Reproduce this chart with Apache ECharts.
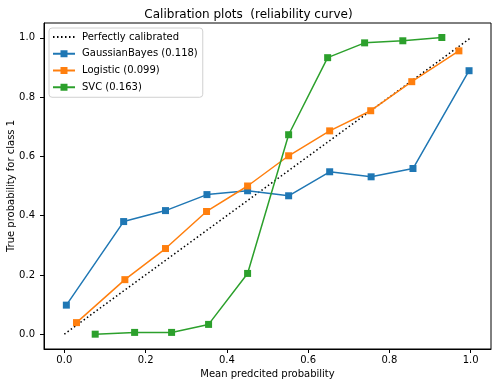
<!DOCTYPE html>
<html>
<head>
<meta charset="utf-8">
<script src="https://cdn.jsdelivr.net/npm/echarts@6/dist/echarts.min.js"></script>
<style>html,body{margin:0;padding:0;background:#fff}#c{width:497px;height:387px}</style>
</head>
<body>
<div id="c"></div>
<script>
var titleText = 'Calibration plots  (reliability curve)';
var xAxisName = 'Mean predcited probability';
var yAxisName = 'True probability for class 1';
var tickValues = [0, 0.2, 0.4, 0.6, 0.8, 1.0];

var perfectX = [0, 1];
var perfectY = [0, 1];

var gaussName = 'GaussianBayes (0.118)';
var gaussX = [0.005, 0.146, 0.249, 0.351, 0.451, 0.552, 0.653, 0.755, 0.858, 0.996];
var gaussY = [0.098, 0.380, 0.417, 0.471, 0.484, 0.467, 0.548, 0.531, 0.559, 0.889];

var logName = 'Logistic (0.099)';
var logX = [0.030, 0.149, 0.249, 0.350, 0.451, 0.552, 0.653, 0.754, 0.855, 0.971];
var logY = [0.039, 0.184, 0.289, 0.414, 0.500, 0.602, 0.686, 0.754, 0.852, 0.956];

var svcName = 'SVC (0.163)';
var svcX = [0.076, 0.173, 0.264, 0.355, 0.451, 0.552, 0.648, 0.739, 0.833, 0.929];
var svcY = [0.000, 0.006, 0.006, 0.033, 0.205, 0.673, 0.933, 0.983, 0.990, 1.001];

function pairs(xs, ys) { return xs.map(function (x, i) { return [x, ys[i]]; }); }

var FONT = 'DejaVu Sans';
var chart = echarts.init(document.getElementById('c'), null, {renderer: 'canvas'});

function dataSeries(name, xs, ys, color) {
  return {
    name: name, type: 'line', data: pairs(xs, ys),
    symbol: 'rect', symbolSize: 7,
    lineStyle: {color: color, width: 1.5},
    itemStyle: {color: color},
    animation: false, z: 3
  };
}

chart.setOption({
  animation: false,
  title: {
    text: titleText, left: 'center', top: 4,
    textStyle: {fontFamily: FONT, fontSize: 12, fontWeight: 'normal', color: '#000'}
  },
  grid: {left: 44, right: 6, top: 23, bottom: 38, show: true, borderColor: '#000', borderWidth: 1,
    containLabel: false, outerBoundsMode: 'none'},
  legend: {
    orient: 'vertical', left: 49, top: 28,
    padding: [4, 5, 5, 3], itemGap: 6.75, itemWidth: 22, itemHeight: 8.75,
    backgroundColor: 'rgba(255,255,255,0.8)', borderColor: '#d0d0d0', borderWidth: 1, borderRadius: 3,
    textStyle: {fontFamily: FONT, fontSize: 10, color: '#000', padding: [0, 0, 0, 2]},
    data: ['Perfectly calibrated', gaussName, logName, svcName]
  },
  xAxis: {
    type: 'value', min: -0.05, max: 1.05,
    name: xAxisName, nameLocation: 'middle', nameGap: 20, nameMoveOverlap: false,
    nameTextStyle: {fontFamily: FONT, fontSize: 10, color: '#000'},
    axisLine: {show: true, onZero: false, lineStyle: {color: '#000'}},
    axisTick: {show: true, length: 4, lineStyle: {color: '#000'}, customValues: tickValues},
    axisLabel: {fontFamily: FONT, fontSize: 10, color: '#000', margin: 6, customValues: tickValues,
      formatter: function (v) { return v.toFixed(1); }},
    splitLine: {show: false}
  },
  yAxis: {
    type: 'value', min: -0.05, max: 1.05,
    name: yAxisName, nameLocation: 'middle', nameGap: 28, nameMoveOverlap: false,
    nameTextStyle: {fontFamily: FONT, fontSize: 10, color: '#000'},
    axisLine: {show: true, onZero: false, lineStyle: {color: '#000'}},
    axisTick: {show: true, length: 4, lineStyle: {color: '#000'}, customValues: tickValues},
    axisLabel: {fontFamily: FONT, fontSize: 10, color: '#000', margin: 9, customValues: tickValues,
      formatter: function (v) { return v.toFixed(1); }},
    splitLine: {show: false}
  },
  series: [
    {
      name: 'Perfectly calibrated', type: 'line', data: pairs(perfectX, perfectY),
      symbol: 'none', lineStyle: {color: '#000', width: 1.5, type: [1.5, 2.5]},
      itemStyle: {color: 'rgba(0,0,0,0)', borderWidth: 0}, z: 2
    },
    dataSeries(gaussName, gaussX, gaussY, '#1f77b4'),
    dataSeries(logName, logX, logY, '#ff7f0e'),
    dataSeries(svcName, svcX, svcY, '#2ca02c')
  ]
});
</script>
</body>
</html>
